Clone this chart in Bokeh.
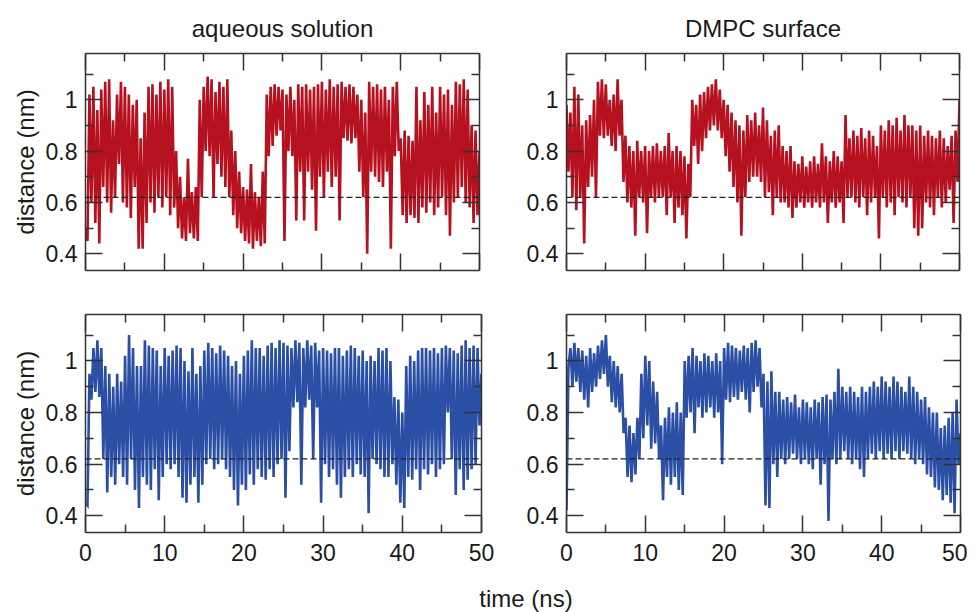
from bokeh.plotting import figure
from bokeh.layouts import column, row
from bokeh.models import (Range1d, FixedTicker, LinearAxis, Span, Div,
                          CustomJSTickFormatter, CustomLabelingPolicy)
from bokeh.embed import file_html
from bokeh.resources import INLINE

# sampling step of the traces (ns)
dt = 0.25

# aqueous solution, red trace (distance, nm)
aq_red = [
    0.50, 0.45, 1.02, 0.60,  1.05, 0.52, 0.96, 0.44,  1.04, 0.66, 1.07, 0.60,  1.08, 0.56, 0.92, 0.62,
    1.02, 0.75, 1.07, 0.60,  1.05, 0.58, 1.02, 0.54,  0.98, 0.66, 1.00, 0.42,  0.85, 0.42, 0.95, 0.52,
    1.05, 0.60, 1.06, 0.56,  1.02, 0.62, 1.07, 0.58,  1.04, 0.62, 1.08, 0.55,  1.05, 0.58, 0.80, 0.50,
    0.70, 0.46, 0.62, 0.45,  0.77, 0.48, 0.64, 0.46,  0.66, 0.45, 1.00, 0.62,  1.05, 0.80, 1.09, 0.78,
    1.08, 0.62, 1.03, 0.75,  1.07, 0.70, 1.05, 0.66,  1.08, 0.62, 0.88, 0.55,  0.80, 0.50, 0.72, 0.48,
    0.66, 0.45, 0.65, 0.44,  0.75, 0.42, 0.64, 0.45,  0.62, 0.43, 0.72, 0.44,  1.02, 0.78, 1.05, 0.82,
    1.06, 0.86, 1.05, 0.88,  1.04, 0.45, 1.02, 0.80,  1.05, 0.78, 1.00, 0.53,  1.06, 0.72, 1.05, 0.53,
    1.06, 0.72, 1.04, 0.65,  1.05, 0.49, 1.06, 0.70,  1.07, 0.62, 1.04, 0.72,  1.08, 0.66, 1.05, 0.70,
    1.06, 0.53, 1.07, 0.85,  1.05, 0.84, 1.06, 0.83,  1.05, 0.85, 1.02, 0.72,  1.00, 0.62, 0.95, 0.40,
    1.07, 0.72, 1.05, 0.70,  1.06, 0.68, 1.04, 0.66,  1.05, 0.72, 1.00, 0.42,  1.05, 0.78, 1.07, 0.80,
    0.85, 0.55, 0.88, 0.52,  0.86, 0.55, 0.84, 0.54,  1.05, 0.52, 0.92, 0.58,  1.03, 0.56, 0.98, 0.60,
    1.05, 0.55, 0.95, 0.58,  1.05, 0.62, 1.02, 0.55,  1.04, 0.47, 0.98, 0.60,  1.07, 0.62, 1.06, 0.66,
    1.08, 0.60, 1.04, 0.58,  0.90, 0.52, 0.88, 0.55,  0.80,
]

# DMPC surface, red trace
dmpc_red = [
    0.98, 0.72, 0.95, 0.62,  1.05, 0.57, 1.02, 0.62,  0.90, 0.44, 0.92, 0.66,  0.94, 0.70, 1.00, 0.62,
    1.07, 0.86, 1.08, 0.85,  1.06, 0.86, 1.00, 0.82,  1.02, 0.80, 1.08, 0.86,  1.00, 0.68, 0.86, 0.60,
    0.82, 0.58, 0.80, 0.47,  0.84, 0.62, 0.80, 0.60,  0.82, 0.48, 0.80, 0.62,  0.82, 0.60, 0.83, 0.62,
    0.80, 0.62, 0.82, 0.55,  0.87, 0.62, 0.80, 0.52,  0.82, 0.58, 0.80, 0.55,  0.78, 0.46, 0.75, 0.62,
    1.00, 0.82, 0.98, 0.75,  1.02, 0.80, 1.03, 0.85,  1.05, 0.88, 1.06, 0.90,  1.08, 0.88, 1.04, 0.85,
    1.00, 0.78, 0.98, 0.72,  0.95, 0.66, 0.92, 0.60,  0.90, 0.47, 0.88, 0.62,  0.94, 0.68, 0.92, 0.70,
    0.95, 0.70, 0.90, 0.68,  0.97, 0.62, 0.92, 0.64,  0.86, 0.55, 0.88, 0.62,  0.90, 0.60, 0.82, 0.60,
    0.80, 0.58, 0.82, 0.54,  0.76, 0.58, 0.75, 0.60,  0.78, 0.58, 0.74, 0.60,  0.76, 0.58, 0.78, 0.60,
    0.75, 0.58, 0.83, 0.60,  0.78, 0.52, 0.76, 0.60,  0.80, 0.58, 0.78, 0.60,  0.76, 0.52, 0.94, 0.62,
    0.85, 0.62, 0.88, 0.60,  0.86, 0.58, 0.89, 0.62,  0.85, 0.55, 0.88, 0.60,  0.86, 0.62, 0.82, 0.46,
    0.90, 0.62, 0.88, 0.58,  0.92, 0.60, 0.90, 0.55,  0.93, 0.62, 0.88, 0.60,  0.94, 0.58, 0.90, 0.62,
    0.90, 0.50, 0.88, 0.47,  0.90, 0.50, 0.86, 0.60,  0.88, 0.58, 0.86, 0.55,  0.85, 0.62, 0.88, 0.58,
    0.85, 0.60, 0.82, 0.65,  0.86, 0.52, 0.88, 0.68,  1.00,
]

# aqueous solution, blue trace
aq_blue = [
    0.45, 0.44, 0.95, 0.85,  1.05, 0.88, 1.08, 0.86,  1.05, 0.62, 0.98, 0.49,  0.95, 0.55, 0.90, 0.52,
    0.95, 0.60, 0.92, 0.55,  1.02, 0.52, 1.10, 0.62,  1.05, 0.50, 0.98, 0.43,  0.98, 0.55, 1.08, 0.52,
    1.06, 0.50, 1.05, 0.58,  1.04, 0.46, 0.98, 0.55,  1.05, 0.60, 1.02, 0.58,  1.04, 0.60, 1.06, 0.55,
    1.05, 0.47, 1.00, 0.45,  0.96, 0.52, 1.05, 0.55,  0.95, 0.45, 0.98, 0.52,  1.04, 0.60, 1.07, 0.62,
    1.05, 0.58, 1.03, 0.60,  1.06, 0.62, 1.04, 0.58,  1.02, 0.55, 0.98, 0.50,  1.00, 0.44, 0.95, 0.52,
    1.02, 0.50, 1.04, 0.56,  1.08, 0.52, 1.05, 0.58,  1.05, 0.55, 1.02, 0.54,  1.06, 0.58, 1.07, 0.55,
    1.05, 0.60, 1.08, 0.62,  1.07, 0.47, 1.06, 0.65,  1.05, 0.82, 1.08, 0.84,  1.07, 0.52, 1.05, 0.82,
    1.08, 0.85, 1.06, 0.62,  1.07, 0.82, 1.04, 0.45,  1.05, 0.60, 1.04, 0.55,  1.03, 0.58, 1.05, 0.52,
    1.05, 0.47, 1.02, 0.55,  1.04, 0.58, 1.06, 0.55,  1.05, 0.60, 1.02, 0.56,  1.04, 0.55, 1.00, 0.41,
    1.02, 0.62, 1.00, 0.60,  1.05, 0.58, 1.04, 0.55,  1.05, 0.55, 1.00, 0.60,  0.86, 0.52, 0.85, 0.45,
    0.80, 0.43, 0.98, 0.55,  1.02, 0.54, 1.00, 0.58,  1.04, 0.50, 1.05, 0.58,  1.05, 0.56, 1.04, 0.60,
    1.05, 0.55, 1.03, 0.58,  1.05, 0.60, 1.06, 0.80,  1.05, 0.62, 1.04, 0.48,  1.03, 0.58, 1.06, 0.50,
    1.08, 0.54, 1.05, 0.58,  1.06, 0.60, 1.05, 0.75,  0.95,
]

# DMPC surface, blue trace
dmpc_blue = [
    0.42, 0.98, 1.05, 0.90,  1.07, 0.92, 1.05, 0.88,  1.04, 0.85, 1.02, 0.82,  1.05, 0.88, 1.03, 0.90,
    1.06, 0.93, 1.08, 0.95,  1.10, 0.90, 1.02, 0.84,  1.00, 0.82, 0.98, 0.80,  0.95, 0.72, 0.78, 0.55,
    0.75, 0.53, 0.72, 0.56,  0.78, 0.62, 0.95, 0.70,  1.02, 0.75, 1.00, 0.66,  0.92, 0.68, 0.88, 0.62,
    0.75, 0.46, 0.78, 0.55,  0.82, 0.52, 0.80, 0.55,  0.84, 0.50, 0.80, 0.48,  1.00, 0.78, 1.02, 0.80,
    1.05, 0.72, 1.02, 0.82,  1.00, 0.78, 1.03, 0.80,  1.02, 0.82, 1.00, 0.78,  1.03, 0.80, 1.00, 0.60,
    1.05, 0.85, 1.07, 0.84,  1.06, 0.86, 1.05, 0.85,  1.04, 0.88, 1.06, 0.85,  1.05, 0.80, 1.07, 0.88,
    1.08, 0.90, 1.05, 0.82,  0.95, 0.44, 0.92, 0.43,  0.96, 0.60, 0.88, 0.55,  0.88, 0.62, 0.85, 0.60,
    0.86, 0.62, 0.84, 0.64,  0.87, 0.62, 0.82, 0.60,  0.85, 0.62, 0.84, 0.60,  0.82, 0.58, 0.85, 0.62,
    0.84, 0.52, 0.86, 0.60,  0.87, 0.38, 0.85, 0.62,  0.88, 0.60, 0.97, 0.62,  0.90, 0.65, 0.88, 0.62,
    0.90, 0.60, 0.88, 0.62,  0.86, 0.58, 0.90, 0.55,  0.88, 0.62, 0.90, 0.64,  0.92, 0.62, 0.90, 0.65,
    0.94, 0.62, 0.92, 0.64,  0.90, 0.62, 0.94, 0.65,  0.92, 0.62, 0.90, 0.65,  0.88, 0.64, 0.94, 0.62,
    0.90, 0.60, 0.88, 0.62,  0.85, 0.60, 0.86, 0.56,  0.82, 0.55, 0.80, 0.51,  0.80, 0.50, 0.74, 0.46,
    0.75, 0.48, 0.78, 0.45,  0.80, 0.41, 0.85, 0.60,  0.72,
]

threshold = 0.62
x_major = [0, 10, 20, 30, 40, 50]
x_minor = [5, 15, 25, 35, 45]
y_major = [0.4, 0.6, 0.8, 1.0]
y_minor = [0.5, 0.7, 0.9, 1.1]
col_titles = ["aqueous solution", "DMPC surface"]
y_label = "distance (nm)"
x_label = "time (ns)"

RED = "#B5111F"
BLUE = "#2A4FA5"
AX = "#333333"
TXT = "#1a1a1a"
FONT = "Liberation Sans"
FS_TICK = "23px"
FS_LAB = "24px"


def style_axis(ax, major, minor, fmt, labels, standoff=8):
    ax.ticker = FixedTicker(ticks=major, minor_ticks=minor)
    ax.major_tick_in = 17
    ax.major_tick_out = 0
    ax.minor_tick_in = 8
    ax.minor_tick_out = 0
    ax.major_tick_line_color = AX
    ax.major_tick_line_width = 1.5
    ax.minor_tick_line_color = AX
    ax.minor_tick_line_width = 1.5
    ax.axis_line_color = AX
    ax.axis_line_width = 1.5
    ax.formatter = CustomJSTickFormatter(code=fmt)
    ax.major_label_text_font = FONT
    ax.major_label_text_color = TXT
    if labels:
        ax.major_label_text_font_size = FS_TICK
        ax.major_label_standoff = standoff
    else:
        # mirrored / unlabeled side: keep the ticks, drop every label
        ax.major_label_text_font_size = "0px"
        ax.major_label_standoff = 0
        ax.major_label_policy = CustomLabelingPolicy(
            code="for (const i of indices) { indices.unset(i) } return indices")


def panel(values, color, title, ylab, xlabels, bl, br, bt, bb, fw, fh):
    p = figure(frame_width=fw, frame_height=fh,
               min_border_left=bl, min_border_right=br,
               min_border_top=bt, min_border_bottom=bb,
               x_range=Range1d(0, 50), y_range=Range1d(0.335, 1.18),
               x_axis_type=None, y_axis_type=None,
               output_backend="svg", toolbar_location=None)
    p.outline_line_color = None
    p.background_fill_color = "white"
    p.border_fill_color = "white"
    xfmt = "return tick.toFixed(0);"
    yfmt = "return tick.toFixed(1).replace(/\\.0$/, '');"
    b = LinearAxis()
    style_axis(b, x_major, x_minor, xfmt, xlabels, standoff=11)
    p.add_layout(b, "below")
    t = LinearAxis()
    style_axis(t, x_major, x_minor, xfmt, False)
    p.add_layout(t, "above")
    l = LinearAxis()
    style_axis(l, y_major, y_minor, yfmt, True)
    if ylab:
        l.axis_label = ylab
        l.axis_label_text_font = FONT
        l.axis_label_text_font_size = FS_LAB
        l.axis_label_text_font_style = "normal"
        l.axis_label_text_color = TXT
        l.axis_label_standoff = 4
    p.add_layout(l, "left")
    r = LinearAxis()
    style_axis(r, y_major, y_minor, yfmt, False)
    p.add_layout(r, "right")
    if title:
        p.title.text = title
        p.title.align = "center"
        p.title.text_font = FONT
        p.title.text_font_size = FS_LAB
        p.title.text_font_style = "normal"
        p.title.text_color = TXT
        p.title.standoff = 24
    times = [i * dt for i in range(len(values))]
    p.line(times, values, line_color=color, line_width=2.6, line_join="miter")
    p.add_layout(Span(location=threshold, dimension="width", line_color="#222222",
                      line_dash="6 3", line_width=1.3))
    return p


pa = panel(aq_red, RED, col_titles[0], y_label, False, 85, 43, 52, 20, 394, 217)
pb = panel(dmpc_red, RED, col_titles[1], None, False, 44, 8, 52, 20, 393, 217)
pc = panel(aq_blue, BLUE, None, y_label, True, 85, 41, 24, 48, 396, 218)
pd = panel(dmpc_blue, BLUE, None, None, True, 44, 7, 24, 48, 394, 218)

xl = Div(text=('<div style="box-sizing:border-box;width:967px;padding-left:75px;'
               'padding-top:2px;text-align:center;font-family:\'Liberation Sans\';'
               'font-size:24px;line-height:24px;color:#1a1a1a;">' + x_label + '</div>'),
         width=967, height=27)

layout = column(row(pa, pb), row(pc, pd), xl)
open("out.html", "w").write(file_html(layout, INLINE))
